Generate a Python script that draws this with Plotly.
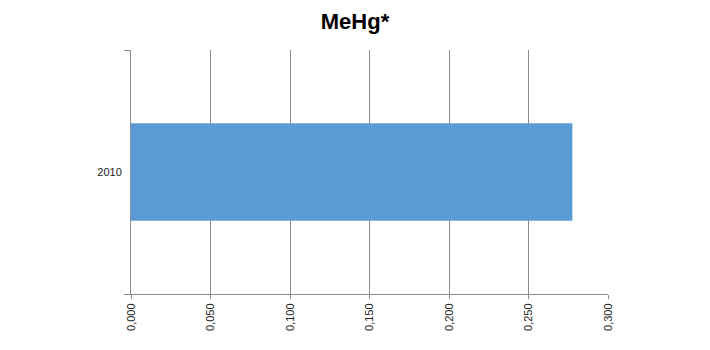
import plotly.graph_objects as go

categories = ["2010"]
values = [0.2776]
x_ticks = [0, 0.05, 0.10, 0.15, 0.20, 0.25, 0.30]

fig = go.Figure(go.Bar(
    x=values, y=categories, orientation="h",
    marker=dict(color="#5B9BD5", line=dict(width=0)),
    width=0.4,
))

fig.update_layout(
    width=710, height=350,
    margin=dict(l=131, r=102, t=50, b=56),
    paper_bgcolor="white", plot_bgcolor="white",
    separators=",.",
    showlegend=False,
    font=dict(family="Liberation Sans, Arial, sans-serif", size=11, color="#222222"),
    title=dict(text="<b>MeHg*</b>", x=0.5, xanchor="center", xref="container",
               y=1 - 21 / 350, yanchor="middle", yref="container",
               font=dict(size=22, family="Liberation Sans, Arial, sans-serif", color="#000000")),
)
fig.update_xaxes(
    range=[0, 0.3], tickvals=x_ticks, tickformat=".3f", tickangle=-90,
    showgrid=True, gridcolor="#8c8c8c", gridwidth=1,
    showline=True, linecolor="#8c8c8c", linewidth=1,
    ticks="outside", ticklen=4, tickcolor="#8c8c8c",
    zeroline=False, fixedrange=True,
)
fig.update_yaxes(
    type="category", categoryorder="array", categoryarray=categories,
    showline=True, linecolor="#8c8c8c", linewidth=1,
    ticks="outside", tickson="boundaries", ticklen=6, tickcolor="#8c8c8c",
    showgrid=False, zeroline=False, ticklabelstandoff=6,
)

fig.write_html("out.html")
